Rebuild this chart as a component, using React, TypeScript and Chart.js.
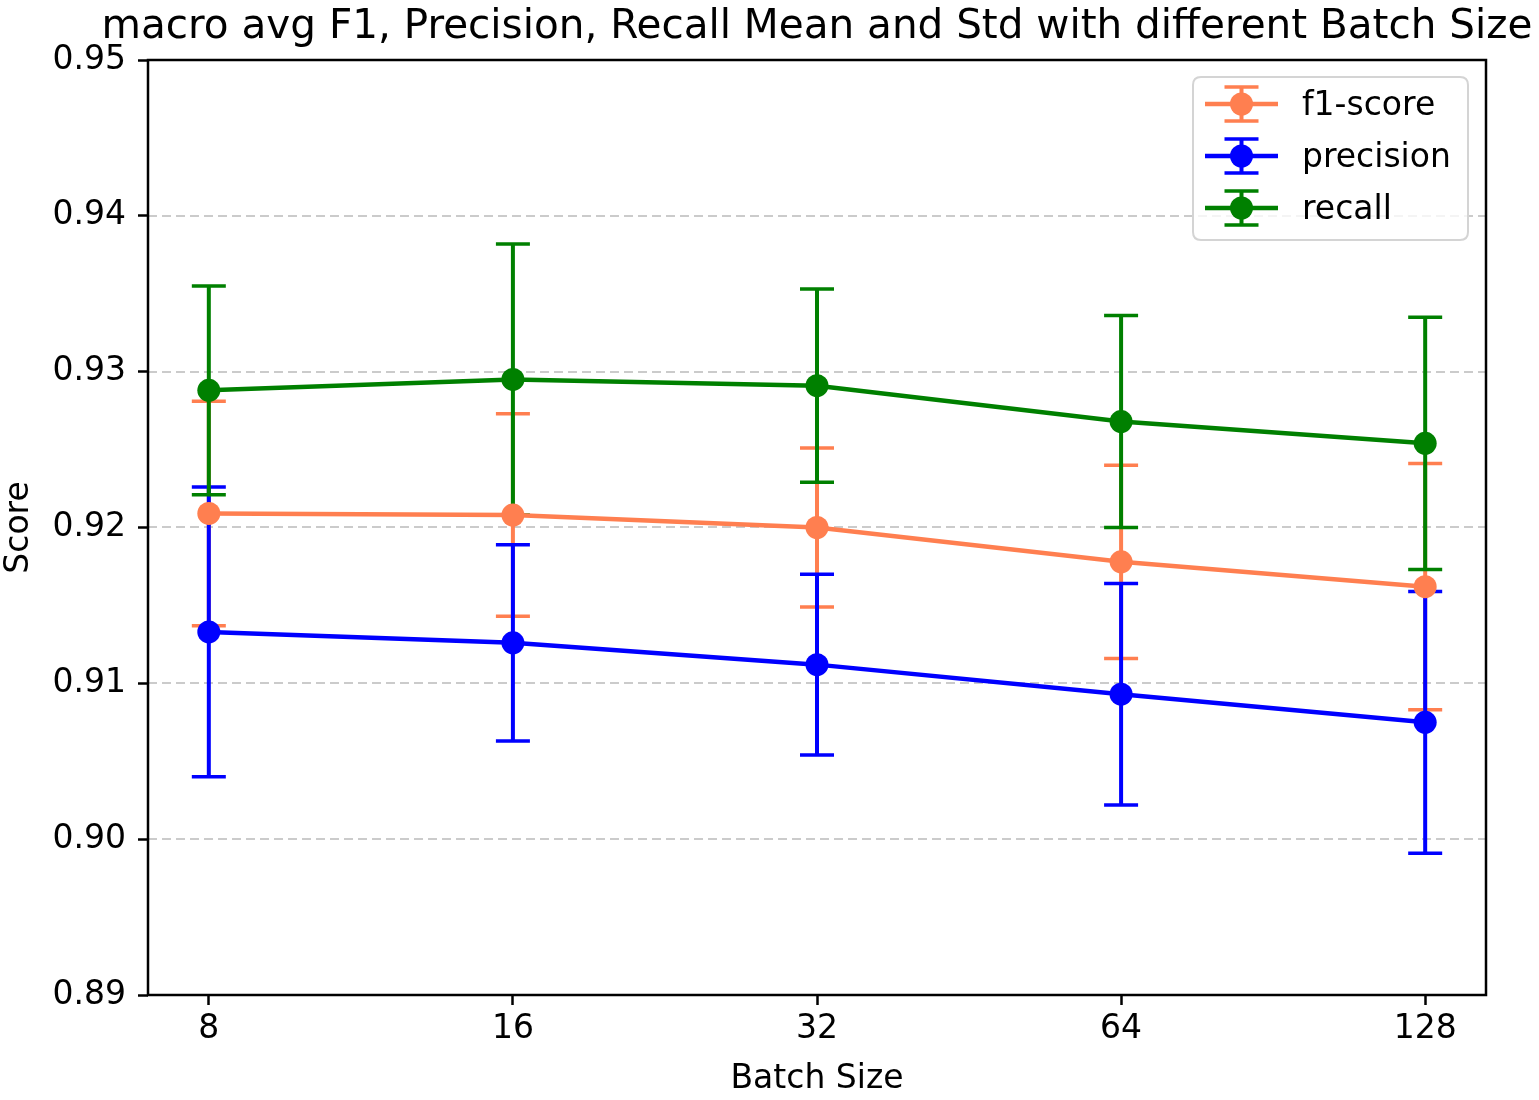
import React, { useEffect, useRef } from "react";
import { Chart, registerables } from "chart.js";

Chart.register(...registerables);

const batchSizes = ["8", "16", "32", "64", "128"];
const yTicks = [0.89, 0.9, 0.91, 0.92, 0.93, 0.94, 0.95];

const f1Mean = [0.9209, 0.9208, 0.92, 0.9178, 0.9162];
const f1Std = [0.0072, 0.0065, 0.0051, 0.0062, 0.0079];
const precisionMean = [0.9133, 0.9126, 0.9112, 0.9093, 0.9075];
const precisionStd = [0.0093, 0.0063, 0.0058, 0.0071, 0.0084];
const recallMean = [0.9288, 0.9295, 0.9291, 0.9268, 0.9254];
const recallStd = [0.0067, 0.0087, 0.0062, 0.0068, 0.0081];

const seriesNames = ["f1-score", "precision", "recall"];
const seriesColors = ["#FF7F50", "#0000FF", "#008000"];
const seriesMeans = [f1Mean, precisionMean, recallMean];
const seriesStds = [f1Std, precisionStd, recallStd];

const TITLE = "macro avg F1, Precision, Recall Mean and Std with different Batch Size";
const FONT = "'DejaVu Sans', sans-serif";
const TEXT = "#000000";
const FS = 33;

const decorPlugin = {
  id: "decor",
  beforeDatasetsDraw(chart: any) {
    const { ctx, chartArea, scales } = chart;
    const ys = scales.y;
    const xs = scales.x;
    ctx.save();
    ctx.strokeStyle = "rgba(190,190,190,0.8)";
    ctx.lineWidth = 2;
    ctx.setLineDash([9, 5]);
    yTicks.forEach((v) => {
      if (v <= 0.8901 || v >= 0.9499) return;
      const py = Math.round(ys.getPixelForValue(v));
      ctx.beginPath();
      ctx.moveTo(chartArea.left, py);
      ctx.lineTo(chartArea.right, py);
      ctx.stroke();
    });
    ctx.setLineDash([]);
    seriesMeans.forEach((means, si) => {
      const stds = seriesStds[si];
      ctx.strokeStyle = seriesColors[si];
      means.forEach((m, i) => {
        const px = xs.getPixelForValue(i);
        const top = ys.getPixelForValue(m + stds[i]);
        const bot = ys.getPixelForValue(m - stds[i]);
        ctx.lineWidth = 4;
        ctx.beginPath();
        ctx.moveTo(px, top);
        ctx.lineTo(px, bot);
        ctx.stroke();
        ctx.lineWidth = 3.5;
        ctx.beginPath();
        ctx.moveTo(px - 17, top);
        ctx.lineTo(px + 17, top);
        ctx.moveTo(px - 17, bot);
        ctx.lineTo(px + 17, bot);
        ctx.stroke();
      });
    });
    ctx.restore();
  },
  afterDatasetsDraw(chart: any) {
    const { ctx, chartArea } = chart;
    ctx.save();
    ctx.strokeStyle = "#000";
    ctx.lineWidth = 2.5;
    ctx.strokeRect(chartArea.left, chartArea.top, chartArea.right - chartArea.left, chartArea.bottom - chartArea.top);
    ctx.restore();
  },
  afterDraw(chart: any) {
    const { ctx, chartArea } = chart;
    ctx.save();
    ctx.fillStyle = TEXT;
    ctx.font = `40.5px ${FONT}`;
    ctx.textAlign = "center";
    ctx.textBaseline = "alphabetic";
    ctx.fillText(TITLE, (chartArea.left + chartArea.right) / 2, 38);
    const bx = 1193, by = 77, bw = 275, bh = 163, r = 8;
    ctx.beginPath();
    ctx.moveTo(bx + r, by);
    ctx.lineTo(bx + bw - r, by);
    ctx.quadraticCurveTo(bx + bw, by, bx + bw, by + r);
    ctx.lineTo(bx + bw, by + bh - r);
    ctx.quadraticCurveTo(bx + bw, by + bh, bx + bw - r, by + bh);
    ctx.lineTo(bx + r, by + bh);
    ctx.quadraticCurveTo(bx, by + bh, bx, by + bh - r);
    ctx.lineTo(bx, by + r);
    ctx.quadraticCurveTo(bx, by, bx + r, by);
    ctx.closePath();
    ctx.fillStyle = "rgba(255,255,255,0.8)";
    ctx.fill();
    ctx.strokeStyle = "#d4d4d4";
    ctx.lineWidth = 2;
    ctx.stroke();
    seriesNames.forEach((name, i) => {
      const cy = 104 + i * 52;
      const cx = 1241.5;
      const col = seriesColors[i];
      ctx.strokeStyle = col;
      ctx.lineWidth = 4;
      ctx.beginPath();
      ctx.moveTo(cx, cy - 17);
      ctx.lineTo(cx, cy + 17);
      ctx.stroke();
      ctx.lineWidth = 3.5;
      ctx.beginPath();
      ctx.moveTo(cx - 17, cy - 17);
      ctx.lineTo(cx + 17, cy - 17);
      ctx.moveTo(cx - 17, cy + 17);
      ctx.lineTo(cx + 17, cy + 17);
      ctx.stroke();
      ctx.lineWidth = 4.5;
      ctx.beginPath();
      ctx.moveTo(1205, cy);
      ctx.lineTo(1278, cy);
      ctx.stroke();
      ctx.fillStyle = col;
      ctx.beginPath();
      ctx.arc(cx, cy, 11.5, 0, Math.PI * 2);
      ctx.fill();
      ctx.fillStyle = TEXT;
      ctx.font = `${FS}px ${FONT}`;
      ctx.textAlign = "left";
      ctx.textBaseline = "middle";
      ctx.fillText(name, 1302, cy + 2);
    });
    ctx.restore();
  },
};

export default function App() {
  const ref = useRef<HTMLCanvasElement | null>(null);
  useEffect(() => {
    if (!ref.current) return;
    const datasets = seriesNames.map((name, si) => ({
      label: name,
      data: seriesMeans[si].map((v, i) => ({ x: i, y: v })),
      borderColor: seriesColors[si],
      backgroundColor: seriesColors[si],
      pointBackgroundColor: seriesColors[si],
      pointBorderWidth: 0,
      pointRadius: 11.5,
      borderWidth: 4.5,
      tension: 0,
      fill: false,
      order: 3 - si,
    }));
    const chart = new Chart(ref.current, {
      type: "line",
      data: { datasets },
      plugins: [decorPlugin],
      options: {
        animation: false,
        responsive: false,
        devicePixelRatio: 1,
        layout: { padding: { top: 60, right: 53, left: 0, bottom: 0 } },
        plugins: { legend: { display: false }, title: { display: false }, tooltip: { enabled: false } },
        scales: {
          x: {
            type: "linear",
            min: -0.2,
            max: 4.2,
            afterBuildTicks: (s: any) => {
              s.ticks = batchSizes.map((_, i) => ({ value: i }));
            },
            afterFit: (s: any) => {
              s.height = 105;
            },
            ticks: {
              callback: (v: any) => batchSizes[Math.round(Number(v))],
              font: { family: FONT, size: FS },
              color: TEXT,
              padding: 5,
              autoSkip: false,
              maxRotation: 0,
            },
            grid: { drawOnChartArea: false, drawTicks: true, tickLength: 10, tickColor: "#000", tickWidth: 2.5 },
            border: { display: false },
            title: { display: true, text: "Batch Size", font: { family: FONT, size: FS }, color: TEXT, padding: { top: 0, bottom: 1 } },
          },
          y: {
            type: "linear",
            min: 0.89,
            max: 0.95,
            afterBuildTicks: (s: any) => {
              s.ticks = yTicks.map((v) => ({ value: v }));
            },
            afterFit: (s: any) => {
              s.width = 148;
            },
            ticks: {
              callback: (v: any) => Number(v).toFixed(2),
              font: { family: FONT, size: FS },
              color: TEXT,
              padding: 12,
              autoSkip: false,
            },
            grid: { drawOnChartArea: false, drawTicks: true, tickLength: 10, tickColor: "#000", tickWidth: 2.5 },
            border: { display: false },
            title: { display: true, text: "Score", font: { family: FONT, size: FS }, color: TEXT, padding: { top: 0, bottom: 0 } },
          },
        },
      },
    });
    return () => chart.destroy();
  }, []);
  return (
    <div style={{ position: "absolute", left: 0, top: 0, width: 1539, height: 1100, background: "#fff" }}>
      <canvas ref={ref} width={1539} height={1100} style={{ width: 1539, height: 1100, display: "block" }} />
    </div>
  );
}
